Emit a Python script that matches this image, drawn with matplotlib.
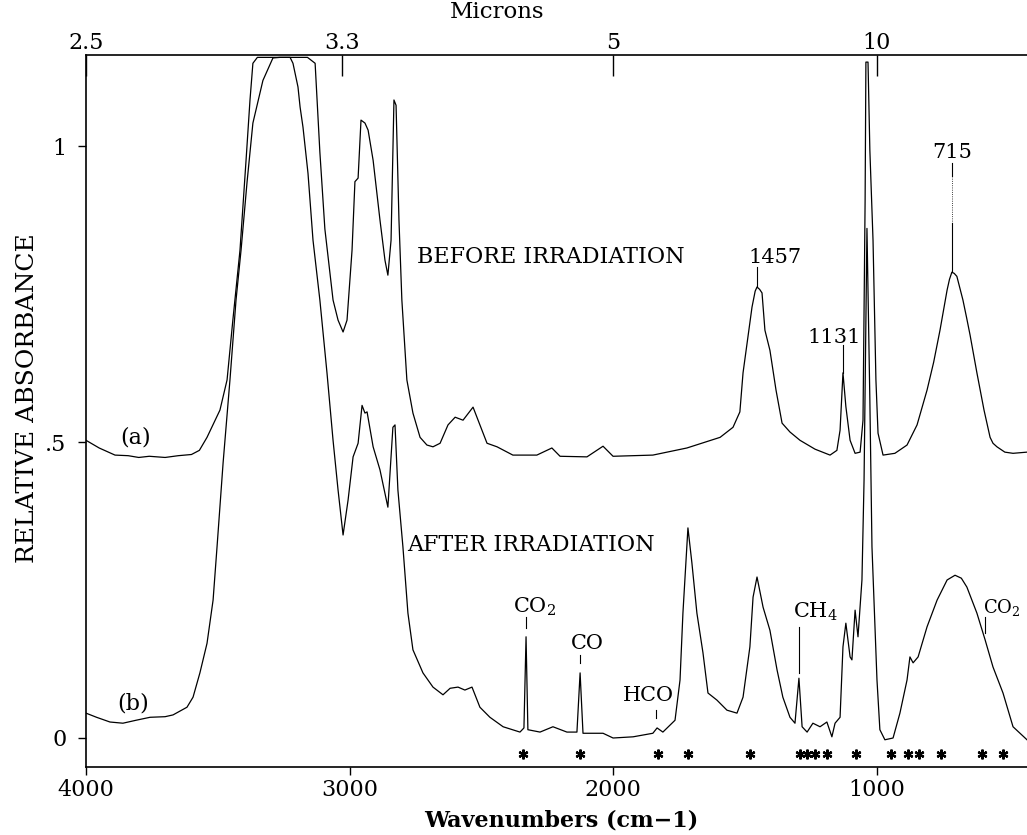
import numpy as np
import matplotlib.pyplot as plt

plt.rcParams['font.family'] = ['DejaVu Serif']
plt.rcParams['mathtext.fontset'] = 'dejavuserif'

# spectrum (a): before irradiation
wn_a = [4000, 3950, 3890, 3840, 3800, 3760, 3700, 3650, 3600, 3570, 3541, 3492, 3465,
        3443, 3416, 3393, 3378, 3367, 3350, 3160, 3131, 3113, 3094, 3063, 3044, 3025,
        3010, 2991, 2980, 2968, 2957, 2942, 2930, 2911, 2885, 2866, 2855, 2843, 2832,
        2824, 2813, 2802, 2783, 2760, 2733, 2707, 2684, 2657, 2627, 2600, 2570, 2532,
        2506, 2479, 2441, 2381, 2290, 2233, 2202, 2100, 2039, 2001, 1850, 1721, 1595,
        1546, 1520, 1508, 1474, 1462, 1455, 1445, 1436, 1425, 1406, 1383, 1360, 1330,
        1292, 1235, 1178, 1152, 1140, 1129, 1118, 1102, 1083, 1064, 1053, 1045, 1042,
        1034, 1027, 1015, 1004, 996, 977, 932, 886, 848, 810, 785, 761, 734, 725, 716,
        707, 697, 674, 660, 647, 621, 594, 571, 560, 545, 515, 484, 431]
abs_a = [0.503, 0.490, 0.478, 0.477, 0.474, 0.476, 0.474, 0.477, 0.479, 0.486, 0.508, 0.554, 0.605,
         0.706, 0.824, 0.976, 1.078, 1.140, 1.150, 1.150, 1.140, 0.990, 0.860, 0.740, 0.706, 0.686,
         0.706, 0.824, 0.940, 0.946, 1.044, 1.039, 1.027, 0.976, 0.875, 0.807, 0.782, 0.841, 1.078,
         1.069, 0.875, 0.740, 0.605, 0.549, 0.508, 0.495, 0.492, 0.498, 0.529, 0.542, 0.537, 0.559,
         0.529, 0.498, 0.492, 0.478, 0.478, 0.490, 0.476, 0.475, 0.493, 0.476, 0.478, 0.490, 0.508,
         0.525, 0.551, 0.617, 0.728, 0.755, 0.762, 0.758, 0.752, 0.689, 0.655, 0.588, 0.532, 0.517,
         0.503, 0.488, 0.478, 0.486, 0.520, 0.617, 0.560, 0.503, 0.481, 0.483, 0.537, 0.909, 1.142,
         1.142, 0.993, 0.841, 0.605, 0.515, 0.478, 0.481, 0.495, 0.529, 0.588, 0.635, 0.689, 0.757,
         0.775, 0.787, 0.785, 0.780, 0.740, 0.710, 0.681, 0.617, 0.554, 0.508, 0.498, 0.492, 0.483,
         0.481, 0.483]

# spectrum (b): after irradiation
wn_b = [4000, 3960, 3909, 3860, 3810, 3757, 3700, 3670, 3617, 3594, 3568, 3541, 3518, 3503,
        3480, 3454, 3431, 3412, 3389, 3367, 3329, 3291, 3264, 3226, 3215, 3196, 3188, 3177,
        3158, 3139, 3113, 3086, 3063, 3044, 3025, 3006, 2987, 2968, 2953, 2942, 2934, 2911,
        2885, 2855, 2836, 2828, 2817, 2798, 2779, 2760, 2722, 2684, 2646, 2619, 2589, 2563,
        2536, 2506, 2468, 2418, 2354, 2339, 2331, 2324, 2278, 2229, 2176, 2138, 2126, 2115,
        2039, 2001, 1925, 1850, 1834, 1812, 1766, 1747, 1736, 1721, 1717, 1702, 1683, 1660,
        1641, 1607, 1569, 1531, 1508, 1482, 1470, 1455, 1432, 1406, 1379, 1357, 1330, 1311,
        1296, 1284, 1265, 1243, 1216, 1190, 1171, 1159, 1140, 1129, 1118, 1102, 1095, 1083,
        1072, 1057, 1049, 1038, 1027, 1019, 1000, 989, 970, 939, 913, 886, 875, 863, 844,
        810, 772, 734, 704, 680, 659, 621, 590, 560, 522, 484, 431]
abs_b = [0.042, 0.035, 0.027, 0.025, 0.030, 0.035, 0.036, 0.039, 0.052, 0.069, 0.110, 0.160, 0.233, 0.323,
         0.465, 0.605, 0.740, 0.824, 0.940, 1.039, 1.111, 1.149, 1.150, 1.150, 1.140, 1.100, 1.066, 1.032,
         0.954, 0.841, 0.740, 0.617, 0.503, 0.419, 0.343, 0.402, 0.475, 0.498, 0.562, 0.549, 0.551, 0.492,
         0.453, 0.390, 0.525, 0.529, 0.419, 0.323, 0.211, 0.149, 0.110, 0.086, 0.073, 0.084, 0.086, 0.081,
         0.086, 0.052, 0.035, 0.019, 0.010, 0.017, 0.171, 0.014, 0.010, 0.019, 0.010, 0.010, 0.110, 0.008,
         0.008, 0.000, 0.002, 0.008, 0.017, 0.010, 0.030, 0.098, 0.211, 0.323, 0.355, 0.296, 0.211, 0.144,
         0.076, 0.064, 0.047, 0.042, 0.069, 0.154, 0.238, 0.272, 0.221, 0.182, 0.115, 0.069, 0.035, 0.025,
         0.101, 0.019, 0.010, 0.025, 0.019, 0.027, 0.002, 0.025, 0.035, 0.154, 0.194, 0.137, 0.132, 0.216,
         0.171, 0.267, 0.436, 0.861, 0.571, 0.323, 0.098, 0.014, -0.003, 0.000, 0.042, 0.098, 0.137, 0.127, 0.137,
         0.188, 0.233, 0.267, 0.275, 0.270, 0.255, 0.211, 0.166, 0.120, 0.076, 0.019, -0.003]

# features marked with asterisks
star_wn = [2343, 2126, 1831, 1717, 1482, 1292, 1265, 1235, 1190, 1080, 947, 882, 841, 757, 602, 522]

# top axis (microns)
micron_labels = ['2.5', '3.3', '5', '10']
micron_vals = [2.5, 3.3, 5, 10]

fig = plt.figure(figsize=(10.27, 8.35), dpi=100)
ax = fig.add_axes([86/1027, 1 - 767/835, 1 - 86/1027, (767 - 55)/835])

ax.plot(wn_a, abs_a, color='black', lw=0.9)
ax.plot(wn_b, abs_b, color='black', lw=0.9)
ax.plot(star_wn, [-0.027]*len(star_wn), ls='none', marker=(6, 2, 0),
        color='black', markersize=7, mew=1.6)

ax.set_xlim(4000, 431)
ax.set_ylim(-0.049, 1.154)
ax.spines['right'].set_visible(False)
for s in ['left', 'bottom', 'top']:
    ax.spines[s].set_linewidth(1.2)

ax.set_xticks([4000, 3000, 2000, 1000])
ax.set_xticklabels(['4000', '3000', '2000', '1000'], fontsize=16)
ax.set_yticks([0, 0.5, 1])
ax.set_yticklabels(['0', '.5', '1'], fontsize=16)
ax.tick_params(axis='x', direction='out', length=6, width=1, pad=3, top=False)
ax.tick_params(axis='y', direction='out', length=6, width=1, pad=8, right=False)

ax2 = ax.twiny()
ax2.set_xlim(ax.get_xlim())
ax2.set_xticks([1e4/m for m in micron_vals])
ax2.set_xticklabels(micron_labels, fontsize=16)
ax2.tick_params(axis='x', direction='in', length=15, width=1, pad=1)
for s in ax2.spines.values():
    s.set_visible(False)

fig.text(497/1027, 1 - 12/835, 'Microns', fontsize=16.5, ha='center', va='center')
fig.text(561/1027, 1 - 820/835, 'Wavenumbers (cm\u22121)', fontsize=16,
         fontweight='bold', ha='center', va='center')
fig.text(28/1027, 1 - 398/835, 'RELATIVE ABSORBANCE', fontsize=18,
         rotation=90, ha='center', va='center')

# text labels
ax.text(2745, 0.8125, 'BEFORE IRRADIATION', fontsize=16, va='center', ha='left')
ax.text(2783, 0.326, 'AFTER IRRADIATION', fontsize=16, va='center', ha='left')
ax.text(3813, 0.508, '(a)', fontsize=16, va='center', ha='center')
ax.text(3822, 0.059, '(b)', fontsize=16, va='center', ha='center')

ax.text(1489, 0.8125, '1457', fontsize=15, va='center', ha='left')
ax.plot([1455, 1455], [0.796, 0.762], color='black', lw=0.8)
ax.text(1265, 0.677, '1131', fontsize=15, va='center', ha='left')
ax.plot([1129, 1129], [0.664, 0.617], color='black', lw=0.8)
ax.text(716, 0.99, '715', fontsize=15, va='center', ha='center')
ax.plot([716, 716], [0.972, 0.95], color='black', lw=0.8)
ax.plot([716, 716], [0.95, 0.87], color='black', lw=0.6, ls=':')
ax.plot([716, 716], [0.87, 0.787], color='black', lw=0.8)

ax.text(2380, 0.221, 'CO$_2$', fontsize=15, va='center', ha='left')
ax.plot([2331, 2331], [0.204, 0.186], color='black', lw=0.8)
ax.text(2160, 0.16, 'CO', fontsize=15, va='center', ha='left')
ax.plot([2126, 2126], [0.14, 0.127], color='black', lw=0.8)
ax.text(1965, 0.071, 'HCO', fontsize=15, va='center', ha='left')
ax.plot([1840, 1840], [0.047, 0.034], color='black', lw=0.8)
ax.text(1318, 0.213, 'CH$_4$', fontsize=15, va='center', ha='left')
ax.plot([1296, 1296], [0.1875, 0.11], color='black', lw=0.8)
ax.text(596, 0.221, 'CO$_2$', fontsize=13, va='center', ha='left')
ax.plot([590, 590], [0.204, 0.177], color='black', lw=0.8)

plt.savefig('out.png', dpi=100)
